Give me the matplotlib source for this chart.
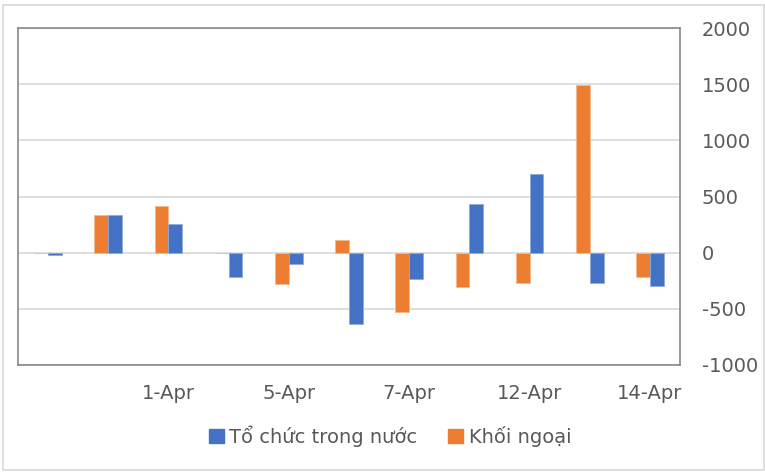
import numpy as np
import matplotlib.pyplot as plt
from matplotlib.patches import Patch, Rectangle

# du lieu doc tu bieu do
ngay = ["30-Mar", "31-Mar", "1-Apr", "2-Apr", "5-Apr", "6-Apr",
        "7-Apr", "9-Apr", "12-Apr", "13-Apr", "14-Apr"]
to_chuc = [-20, 335, 255, -215, -105, -635, -230, 432, 698, -272, -293]
khoi_ngoai = [0, 335, 412, 0, -278, 112, -532, -310, -272, 1492, -218]

mau_xanh = "#4472C4"
mau_cam = "#ED7D31"
mau_chu = "#595959"

plt.rcParams["font.family"] = ["DejaVu Sans"]
plt.rcParams["axes.unicode_minus"] = False

fig = plt.figure(figsize=(7.65, 4.72), dpi=100)
ax = fig.add_axes([18 / 765, 1 - 365 / 472, 662 / 765, 337 / 472])

x = np.arange(len(ngay))
w = 0.23
ax.bar(x - w / 2, khoi_ngoai, w, color=mau_cam, edgecolor="#f6b98f",
       linewidth=0.6, zorder=3)
ax.bar(x + w / 2, to_chuc, w, color=mau_xanh, edgecolor="#8eaadb",
       linewidth=0.6, zorder=3)

ax.set_xlim(-0.5, len(ngay) - 0.5)
ax.set_ylim(-1000, 2000)
ax.set_yticks(np.arange(-1000, 2001, 500))
ax.yaxis.tick_right()
ax.grid(axis="y", color="#d9d9d9", linewidth=1.2, zorder=0)

# chi hien nhan moi hai ngay
ax.set_xticks(x[2::2])
ax.set_xticklabels(ngay[2::2])

ax.tick_params(axis="y", length=0, pad=15.5, labelsize=14, labelcolor=mau_chu)
ax.tick_params(axis="x", length=0, pad=14, labelsize=14, labelcolor=mau_chu)

for s in ax.spines.values():
    s.set_color("#7f7f7f")
    s.set_linewidth(1.1)

handles = [Patch(color=mau_xanh, label="Tổ chức trong nước"),
           Patch(color=mau_cam, label="Khối ngoại")]
fig.legend(handles=handles, loc="center", ncol=2, frameon=False,
           bbox_to_anchor=(390 / 765, 1 - 436 / 472), fontsize=14,
           handlelength=0.78, handleheight=0.78, handletextpad=0.26,
           columnspacing=1.6, labelcolor=mau_chu)

# vien ngoai mo
fig.patches.append(Rectangle((3 / 765, 2 / 472), 761 / 765, 465 / 472,
                             transform=fig.transFigure, fill=False,
                             edgecolor="#d9d9d9", linewidth=1.2))

fig.savefig("out.png", dpi=100)
